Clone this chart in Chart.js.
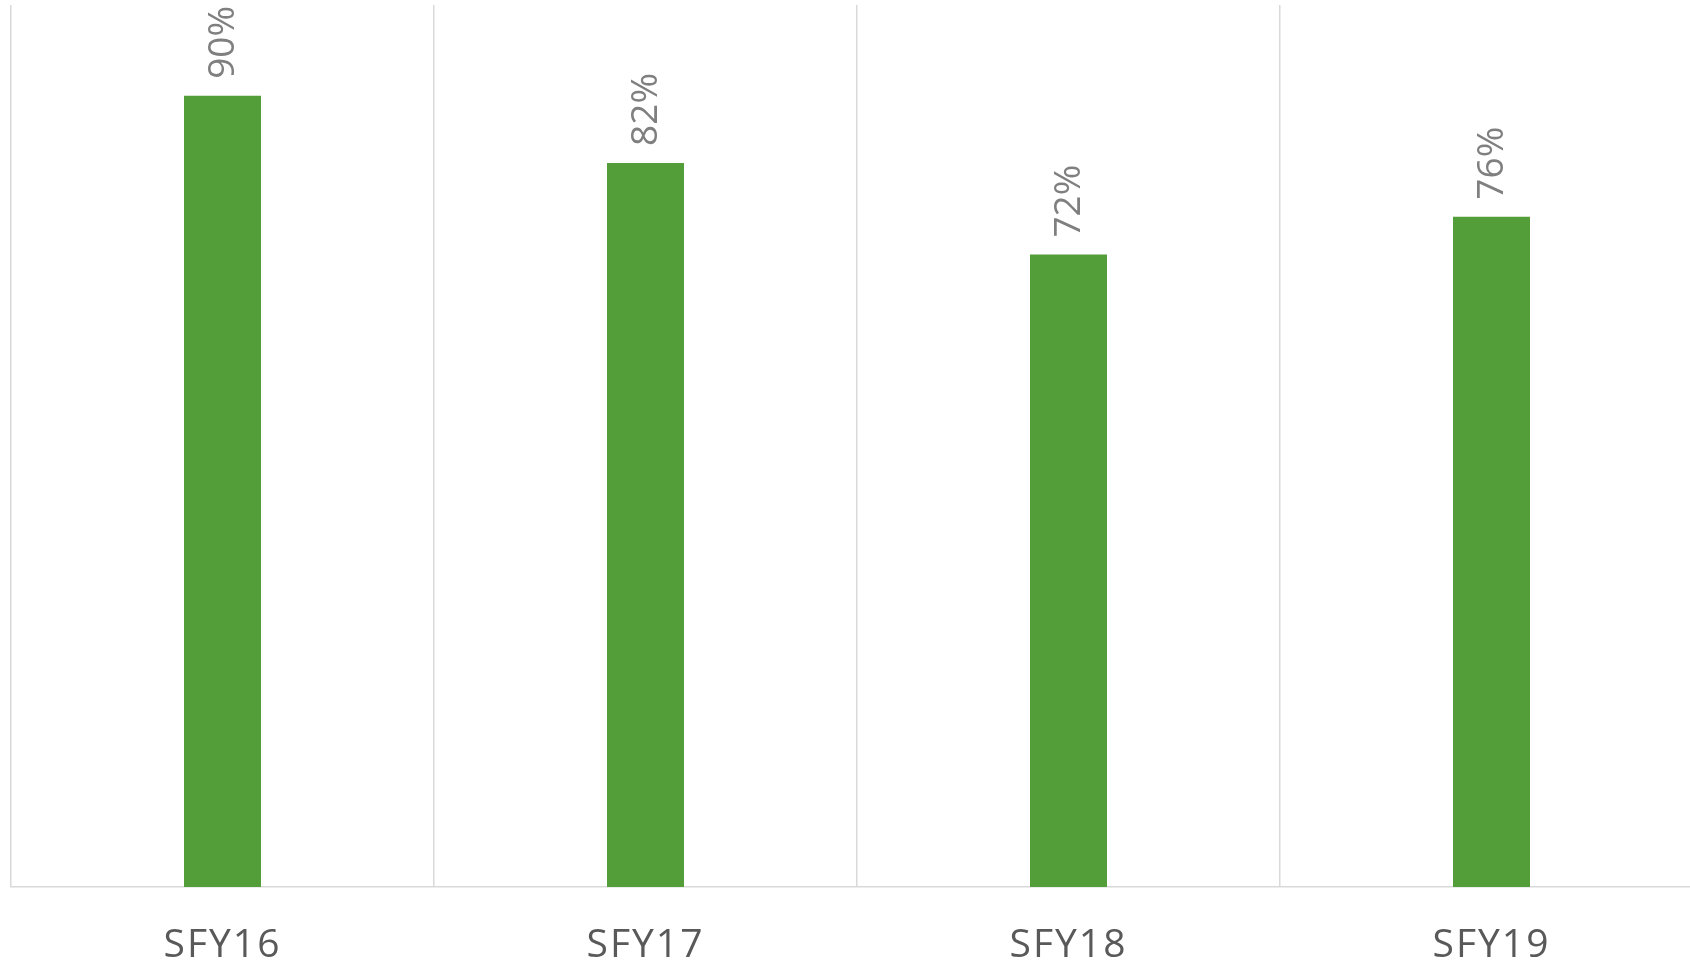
<!DOCTYPE html>
<html>
<head>
<meta charset="utf-8">
<script src="https://cdn.jsdelivr.net/npm/chart.js@4/dist/chart.umd.min.js"></script>
<style>
  html, body { margin: 0; padding: 0; background: #fff; overflow: hidden; }
</style>
</head>
<body>
<canvas class="js-chart" width="1710" height="963"></canvas>
<script>
const categories = ['SFY16', 'SFY17', 'SFY18', 'SFY19'];
const values = [89.7, 82.1, 71.7, 76.0];
const valueLabels = ['90%', '82%', '72%', '76%'];

// spread the axis letters out a bit, like the original
const spacingPlugin = {
  id: 'spacing',
  beforeDraw: function(chart) {
    chart.ctx.letterSpacing = '2px';
  }
};

// draws the rotated % labels above each bar
const barLabelPlugin = {
  id: 'barLabels',
  afterDatasetsDraw: function(chart) {
    const ctx = chart.ctx;
    const meta = chart.getDatasetMeta(0);
    ctx.save();
    ctx.letterSpacing = '0px';
    ctx.fillStyle = '#7f7f7f';
    ctx.font = '37px "Open Sans"';
    ctx.textAlign = 'left';
    ctx.textBaseline = 'middle';
    meta.data.forEach(function(bar, i) {
      ctx.save();
      ctx.translate(bar.x + 1, bar.y - 17);
      ctx.rotate(-Math.PI / 2);
      ctx.fillText(valueLabels[i], 0, 0);
      ctx.restore();
    });
    ctx.restore();
  }
};

document.addEventListener('DOMContentLoaded', function() {
  const canvas = document.querySelector('.js-chart').getContext('2d');
  new Chart(canvas, {
    type: 'bar',
    data: {
      labels: categories,
      datasets: [{
        data: values,
        backgroundColor: '#549e39',
        borderWidth: 0,
        barPercentage: 1,
        categoryPercentage: 0.182
      }]
    },
    options: {
      responsive: false,
      animation: false,
      devicePixelRatio: 1,
      layout: { padding: { left: 11, right: 7, top: 5, bottom: 0 } },
      plugins: { legend: { display: false }, tooltip: { enabled: false } },
      scales: {
        x: {
          grid: { color: '#d9d9d9', lineWidth: 1.5, drawTicks: false, offset: true },
          border: { color: '#d9d9d9', width: 1.5 },
          ticks: {
            color: '#595959',
            font: { family: '"Open Sans"', size: 39 },
            padding: 35
          },
          afterFit: function(scale) { scale.height = 76; }
        },
        y: {
          display: false,
          min: 0,
          max: 100
        }
      }
    },
    plugins: [spacingPlugin, barLabelPlugin]
  });
});
</script>
</body>
</html>
